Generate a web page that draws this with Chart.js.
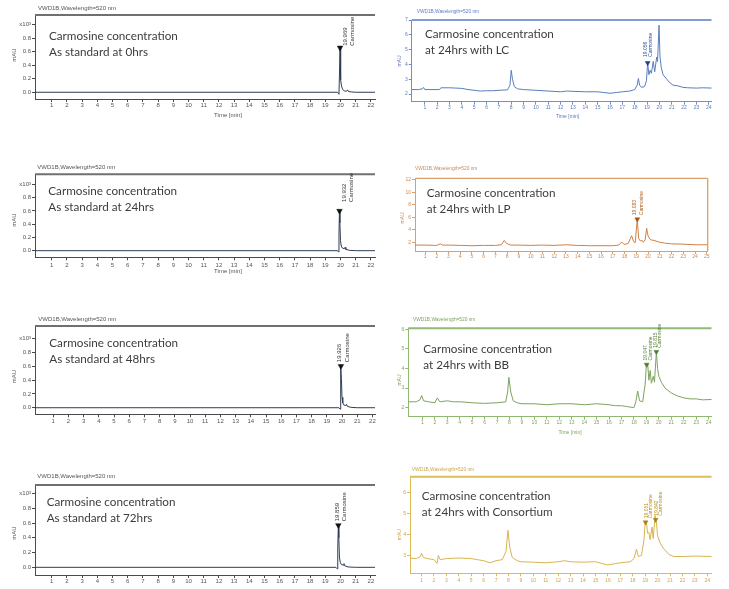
<!DOCTYPE html>
<html><head><meta charset="utf-8">
<script src="https://cdn.jsdelivr.net/npm/chart.js@4/dist/chart.umd.min.js"></script>
<style>
html,body{margin:0;padding:0;background:#fff;width:729px;height:589px;overflow:hidden;position:relative}
canvas{position:absolute}
.note{position:absolute;white-space:nowrap;font-family:Lato,"Open Sans",sans-serif;color:#3c3c3c;font-size:11.7px;line-height:16.2px}
</style></head><body>
<script>
// ---------- DATA ----------
const peakName = 'Carmosine';
const headerText = 'VWD1B,Wavelength=520 nm';

const stdXTicks = [1,2,3,4,5,6,7,8,9,10,11,12,13,14,15,16,17,18,19,20,21,22];
const stdYTicks = [0,0.2,0.4,0.6,0.8,1.0];
const x24Ticks = [1,2,3,4,5,6,7,8,9,10,11,12,13,14,15,16,17,18,19,20,21,22,23,24];
const x25Ticks = [1,2,3,4,5,6,7,8,9,10,11,12,13,14,15,16,17,18,19,20,21,22,23,24,25];
const lcYTicks = [2,3,4,5,6,7];
const lpYTicks = [2,4,6,8,10,12];
const bbYTicks = [2,3,4,5,6];
const consYTicks = [3,4,5,6];

// Standard 0 hrs
const std0Time   = [-0.1, 19.8, 19.9, 19.935, 19.969, 19.99, 20.03, 20.08, 20.15, 20.25, 20.4, 20.47, 20.52, 20.7, 21.0, 22.3];
const std0Signal = [0, 0, -0.03, 0.3, 0.66, 0.45, 0.18, 0.08, 0.04, 0.02, 0.015, 0.035, 0.012, 0.005, 0, 0];
const std0PeakTime = [19.969], std0PeakSignal = [0.66], std0PeakRT = ['19.969'];
// Standard 24 hrs
const std24Time   = [-0.1, 19.8, 19.87, 19.9, 19.932, 19.96, 20.0, 20.05, 20.12, 20.25, 20.3, 20.35, 20.6, 21.0, 22.3];
const std24Signal = [0, 0, -0.02, 0.25, 0.6, 0.42, 0.15, 0.07, 0.04, 0.03, 0.05, 0.02, 0.005, 0, 0];
const std24PeakTime = [19.932], std24PeakSignal = [0.6], std24PeakRT = ['19.932'];
// Standard 48 hrs
const std48Time   = [-0.2, 19.8, 19.87, 19.9, 19.926, 19.96, 20.0, 20.05, 20.12, 20.25, 20.3, 20.35, 20.6, 21.0, 22.2];
const std48Signal = [0, 0, -0.02, 0.25, 0.6, 0.42, 0.15, 0.07, 0.04, 0.03, 0.05, 0.02, 0.005, 0, 0];
const std48PeakTime = [19.926], std48PeakSignal = [0.6], std48PeakRT = ['19.926'];
// Standard 72 hrs
const std72Time   = [-0.1, 19.7, 19.78, 19.82, 19.859, 19.89, 19.93, 19.98, 20.05, 20.18, 20.23, 20.28, 20.5, 21.0, 22.3];
const std72Signal = [0, 0, -0.02, 0.25, 0.57, 0.4, 0.14, 0.07, 0.04, 0.03, 0.05, 0.02, 0.005, 0, 0];
const std72PeakTime = [19.859], std72PeakSignal = [0.57], std72PeakRT = ['19.859'];

// 24 hrs with LC
const lcTime   = [-0.1,0.5,0.8,0.9,1.0,1.5,2.2,2.3,3,3.5,4,4.5,5,5.5,6,6.5,7,7.7,7.9,8.0,8.1,8.25,8.5,9,10,11,12,12.5,13,14,15,15.5,16,16.5,17,17.6,18,18.2,18.3,18.4,18.55,18.8,18.95,19.05,19.15,19.25,19.35,19.5,19.62,19.78,19.85,19.97,20.05,20.15,20.3,20.55,20.8,21.1,21.5,21.9,22.3,23,23.5,24.3];
const lcSignal = [2.3,2.3,2.35,2.45,2.3,2.3,2.3,2.42,2.42,2.4,2.38,2.3,2.25,2.2,2.22,2.22,2.25,2.28,2.6,3.6,3.0,2.5,2.35,2.3,2.25,2.2,2.15,2.2,2.18,2.15,2.15,2.1,2.05,2.1,2.15,2.2,2.3,2.6,3.05,2.6,2.45,2.5,2.9,4.1,3.3,3.6,3.4,4.2,3.5,4.5,4.2,6.65,4.5,3.8,3.3,3.05,2.8,2.6,2.55,2.45,2.42,2.4,2.42,2.4];
const lcPeakTime = [19.05], lcPeakSignal = [4.1], lcPeakRT = ['19.056'];
// 24 hrs with LP
const lpTime   = [0.1,1,2,2.3,2.5,3,4,5,6,7,7.5,7.75,7.95,8.3,9,10,11,12,13,14,15,16,17,17.5,17.75,17.95,18.3,18.6,18.75,18.9,19.08,19.2,19.35,19.5,19.6,19.75,19.88,20.0,20.2,20.5,21,21.5,22,23,24,25.1];
const lpSignal = [1.55,1.55,1.5,1.75,1.55,1.55,1.5,1.45,1.5,1.5,1.6,2.3,1.8,1.55,1.55,1.5,1.55,1.5,1.6,1.5,1.45,1.45,1.45,1.55,2.05,1.65,1.8,3.05,2.2,1.9,5.7,2.6,2.2,2.3,2.0,2.4,4.25,3.0,2.4,2.3,2.0,1.85,1.75,1.7,1.6,1.6];
const lpPeakTime = [19.08], lpPeakSignal = [5.7], lpPeakRT = ['19.083'];
// 24 hrs with BB
const bbTime   = [-0.2,0.5,0.8,0.95,1.1,1.5,2.0,2.2,2.4,3,3.5,4,4.5,5,6,7,7.7,7.85,7.95,8.1,8.3,8.6,9,10,11,12,13,14,15,16,16.5,17,17.5,18,18.15,18.3,18.45,18.7,18.9,19.0,19.1,19.2,19.3,19.4,19.55,19.65,19.8,19.9,20.0,20.2,20.5,21,21.5,22,22.5,23,23.5,24.3];
const bbSignal = [2.3,2.3,2.4,2.62,2.35,2.3,2.25,2.5,2.3,2.35,2.3,2.3,2.28,2.25,2.22,2.25,2.3,2.8,3.55,2.8,2.35,2.25,2.2,2.2,2.15,2.2,2.2,2.15,2.2,2.15,2.1,2.1,2.05,2.0,2.3,2.85,2.35,2.3,3.2,4.2,4.25,3.4,3.9,3.25,3.6,3.3,4.85,4.0,3.6,3.3,3.0,2.75,2.6,2.5,2.45,2.45,2.4,2.42];
const bbPeakTime = [19.02, 19.8], bbPeakSignal = [4.2, 4.85], bbPeakRT = ['19.047', '19.815'];
// 24 hrs with Consortium
const consTime   = [0.1,0.6,0.9,1.0,1.15,1.5,2.0,2.25,2.35,2.5,3,4,5,5.5,6,6.5,7,7.5,7.8,7.95,8.1,8.3,8.7,9,10,11,12,12.5,13,14,15,15.5,16,16.5,17,17.8,18.1,18.3,18.45,18.7,18.9,19.0,19.1,19.2,19.3,19.4,19.55,19.65,19.8,19.9,20.0,20.2,20.45,20.9,21.3,22,23,24.4];
const consSignal = [2.87,2.85,2.95,3.1,2.9,2.85,2.8,2.62,3.0,2.8,2.85,2.88,2.85,2.8,2.75,2.65,2.75,2.8,3.2,4.2,3.4,2.9,2.75,2.7,2.68,2.65,2.7,2.75,2.7,2.68,2.7,2.62,2.55,2.6,2.65,2.7,2.85,3.3,2.95,3.0,3.7,4.55,4.6,4.05,4.1,3.75,4.35,3.8,4.9,4.6,3.95,3.6,3.35,3.05,2.95,2.95,2.97,2.95];
const consPeakTime = [19.03, 19.84], consPeakSignal = [4.58, 4.7], consPeakRT = ['19.051', '19.842'];

// ---------- THEMES / LAYOUT ----------
const themes = {
  grey:  {trace:'#2f3d56', axis:'#4a4a4a', top:'#707070', text:'#555555', label:'#333333', mark:'#111111'},
  blue:  {trace:'#5a7dbb', axis:'#6f90c8', top:'#7f9dd2', text:'#5a7dbb', label:'#2e4f98', mark:'#1f3f88'},
  orange:{trace:'#cf8047', axis:'#dba06a', top:'#dba06a', text:'#cc8a55', label:'#b3601c', mark:'#a8500e'},
  green: {trace:'#7ea35f', axis:'#91b873', top:'#93b977', text:'#7ea35f', label:'#557f35', mark:'#4d7a2e'},
  gold:  {trace:'#d8b450', axis:'#dcbb55', top:'#ddbd5a', text:'#caa642', label:'#b8921c', mark:'#a88310'}
};

const panels = [
 {time:std0Time, signal:std0Signal, pkT:std0PeakTime, pkS:std0PeakSignal, pkL:std0PeakRT, xTicks:stdXTicks, yTicks:stdYTicks, std:true,
  xMin:-0.1, xMax:22.27, yMin:-0.1, yMax:1.145, theme:'grey',
  box:{x:0,y:0,w:380,h:124}, area:{l:35,t:15,r:375,b:99}, tf:6, tpad:0,
  header:[38,8.3,6], tlab:[228,115], mau:[14.5,55,6], note:[49,35], lines:['Carmosine concentration','As standard at 0hrs'],
  lab:{dx:[5.5,12],gap:2,size:6}},
 {time:std24Time, signal:std24Signal, pkT:std24PeakTime, pkS:std24PeakSignal, pkL:std24PeakRT, xTicks:stdXTicks, yTicks:stdYTicks, std:true,
  xMin:-0.1, xMax:22.27, yMin:-0.1, yMax:1.153, theme:'grey',
  box:{x:0,y:158,w:380,h:118}, area:{l:35,t:174.3,r:375,b:257.3}, tf:6, tpad:1,
  header:[37.3,167.7,6], tlab:[228,271.5], mau:[14.5,220,6], note:[48.3,190], lines:['Carmosine concentration','As standard at 24hrs'],
  lab:{dx:[5,11.5],gap:9,size:6}},
 {time:std48Time, signal:std48Signal, pkT:std48PeakTime, pkS:std48PeakSignal, pkL:std48PeakRT, xTicks:stdXTicks, yTicks:stdYTicks, std:true,
  xMin:-0.2, xMax:22.17, yMin:-0.095, yMax:1.18, theme:'grey',
  box:{x:0,y:310,w:380,h:118}, area:{l:35,t:326,r:375,b:414.3}, tf:6, tpad:0,
  header:[38.3,319,6], tlab:null, mau:[14.5,376.7,6], note:[49.3,342.3], lines:['Carmosine concentration','As standard at 48hrs'],
  lab:{dx:[-2,6.5],gap:4,size:6}},
 {time:std72Time, signal:std72Signal, pkT:std72PeakTime, pkS:std72PeakSignal, pkL:std72PeakRT, xTicks:stdXTicks, yTicks:stdYTicks, std:true,
  xMin:-0.1, xMax:22.27, yMin:-0.104, yMax:1.116, theme:'grey',
  box:{x:0,y:468,w:380,h:121}, area:{l:35,t:485,r:375,b:575}, tf:6, tpad:0,
  header:[37.3,476.7,6], tlab:null, mau:[14.5,533,6], note:[46.7,500.7], lines:['Carmosine concentration','As standard at 72hrs'],
  lab:{dx:[-1,5.5],gap:4,size:6}},
 {time:lcTime, signal:lcSignal, pkT:lcPeakTime, pkS:lcPeakSignal, pkL:lcPeakRT, xTicks:x24Ticks, yTicks:lcYTicks,
  xMin:-0.06, xMax:24.22, yMin:1.48, yMax:7.0, theme:'blue',
  box:{x:390,y:0,w:326,h:124}, area:{l:411.7,t:20,r:716,b:101.7}, tf:5, tpad:0,
  header:[416.7,11.7,4.8], tlab:[567.5,117], mau:[400,61,5], note:[425,33.3], lines:['Carmosine concentration','at 24hrs with LC'],
  lab:{dx:[-2.4,2.8],gap:6,size:5}},
 {time:lpTime, signal:lpSignal, pkT:lpPeakTime, pkS:lpPeakSignal, pkL:lpPeakRT, xTicks:x25Ticks, yTicks:lpYTicks, box4:true,
  xMin:0.145, xMax:25.08, yMin:0.6, yMax:12.27, theme:'orange',
  box:{x:390,y:160,w:330,h:100}, area:{l:415,t:178.3,r:707.7,b:251}, tf:5, tpad:0,
  header:[415,169,4.8], tlab:null, mau:[402.3,218,5], note:[426.7,191.7], lines:['Carmosine concentration','at 24hrs with LP'],
  lab:{dx:[-2.5,4.5],gap:4,size:5}},
 {time:bbTime, signal:bbSignal, pkT:bbPeakTime, pkS:bbPeakSignal, pkL:bbPeakRT, xTicks:x24Ticks, yTicks:bbYTicks,
  xMin:-0.13, xMax:24.23, yMin:1.54, yMax:6.05, theme:'green',
  box:{x:390,y:313,w:326,h:125}, area:{l:408.3,t:328.3,r:716,b:416.7}, tf:5, tpad:0,
  header:[413,320,4.8], tlab:[570,433], mau:[400,380,5], note:[423.3,348.3], lines:['Carmosine concentration','at 24hrs with BB'],
  lab:{dx:[-1,3.5],gap:4,size:5}},
 {time:consTime, signal:consSignal, pkT:consPeakTime, pkS:consPeakSignal, pkL:consPeakRT, xTicks:x24Ticks, yTicks:consYTicks,
  xMin:0.07, xMax:24.34, yMin:2.15, yMax:6.75, theme:'gold',
  box:{x:390,y:463,w:326,h:126}, area:{l:410,t:476.7,r:716,b:573.3}, tf:5, tpad:1,
  header:[411.7,470,4.8], tlab:null, mau:[400,534.7,5], note:[421.7,495], lines:['Carmosine concentration','at 24hrs with Consortium'],
  lab:{dx:[1.5,5],gap:4,size:5}}
];

const FONT = '"Liberation Sans", Arial, sans-serif';

function makePlugin(p, th){
  return {
    id:'deco',
    afterDraw(chart){
      const ctx = chart.ctx, ca = chart.chartArea, ox = p.box.x, oy = p.box.y;
      const xs = chart.scales.x, ys = chart.scales.y;
      ctx.save();
      ctx.strokeStyle = th.top; ctx.lineWidth = p.box4 ? 1.3 : 2;
      ctx.beginPath(); ctx.moveTo(ca.left, ca.top); ctx.lineTo(ca.right, ca.top); ctx.stroke();
      if (p.box4){ ctx.beginPath(); ctx.moveTo(ca.right, ca.top); ctx.lineTo(ca.right, ca.bottom); ctx.stroke(); }
      ctx.fillStyle = th.label; ctx.font = p.lab.size + 'px ' + FONT;
      ctx.textBaseline = 'middle'; ctx.textAlign = 'left';
      p.pkT.forEach((t,i)=>{
        const px = xs.getPixelForValue(t), py = ys.getPixelForValue(p.pkS[i]);
        [p.pkL[i], peakName].forEach((txt,j)=>{
          ctx.save(); ctx.translate(px + p.lab.dx[j], py - p.lab.gap); ctx.rotate(-Math.PI/2);
          ctx.fillText(txt, 0, 0); ctx.restore();
        });
      });
      ctx.fillStyle = th.text; ctx.font = p.header[2] + 'px ' + FONT;
      ctx.textAlign = 'left'; ctx.textBaseline = 'middle';
      ctx.fillText(headerText, p.header[0]-ox, p.header[1]-oy);
      if (p.tlab){ ctx.font = p.tf + 'px ' + FONT; ctx.textAlign='center'; ctx.fillText('Time [min]', p.tlab[0]-ox, p.tlab[1]-oy); }
      ctx.save(); ctx.translate(p.mau[0]-ox, p.mau[1]-oy); ctx.rotate(-Math.PI/2);
      ctx.font = p.mau[2] + 'px ' + FONT; ctx.textAlign='center'; ctx.fillText('mAU', 0, 0); ctx.restore();
      ctx.restore();
    }
  };
}

panels.forEach(p=>{
  const th = themes[p.theme];
  const cv = document.createElement('canvas');
  cv.width = p.box.w; cv.height = p.box.h;
  cv.style.left = p.box.x + 'px'; cv.style.top = p.box.y + 'px';
  cv.style.width = p.box.w + 'px'; cv.style.height = p.box.h + 'px';
  document.body.appendChild(cv);
  const yW = p.area.l - p.box.x;
  const xH = p.box.y + p.box.h - p.area.b;
  const padTop = p.area.t - p.box.y;
  const padRight = p.box.x + p.box.w - p.area.r;
  new Chart(cv, {
    type:'line',
    data:{datasets:[
      {data:p.time.map((t,i)=>({x:t,y:p.signal[i]})), borderColor:th.trace, borderWidth:1, pointRadius:0, tension:0, fill:false, order:2},
      {data:p.pkT.map((t,i)=>({x:t,y:p.pkS[i]})), showLine:false, pointStyle:'triangle', rotation:180, pointRadius:p.std?3.2:2.8,
       backgroundColor:th.mark, borderColor:th.mark, borderWidth:0.5, order:1}
    ]},
    options:{
      responsive:false, animation:false, devicePixelRatio:1,
      layout:{padding:{top:padTop, right:padRight, left:0, bottom:0}},
      plugins:{legend:{display:false}, tooltip:{enabled:false}, title:{display:false}},
      scales:{
        x:{type:'linear', min:p.xMin, max:p.xMax,
           afterBuildTicks:s=>{ s.ticks = p.xTicks.map(v=>({value:v})); },
           afterFit:s=>{ s.height = xH; s.paddingLeft = 0; s.paddingRight = 0; },
           ticks:{font:{size:p.tf, family:FONT}, color:th.text, padding:p.tpad, maxRotation:0, autoSkip:false, callback:v=>String(v)},
           grid:{display:true, drawOnChartArea:false, drawTicks:true, tickLength:3, color:th.axis, lineWidth:1},
           border:{display:true, color:th.axis, width:1}},
        y:{type:'linear', min:p.yMin, max:p.yMax,
           afterBuildTicks:s=>{ s.ticks = p.yTicks.map(v=>({value:v})); },
           afterFit:s=>{ s.width = yW; s.paddingTop = 0; s.paddingBottom = 0; },
           ticks:{font:{size:p.tf, family:FONT}, color:th.text, padding:1, autoSkip:false,
                  callback:v=> p.std ? (v===1 ? 'x10\u00B3' : v.toFixed(1)) : String(v)},
           grid:{display:true, drawOnChartArea:false, drawTicks:true, tickLength:3, color:th.axis, lineWidth:1},
           border:{display:true, color:th.axis, width:1}}
      }
    },
    plugins:[makePlugin(p, th)]
  });
  const n = document.createElement('div');
  n.className = 'note';
  n.style.left = p.note[0] + 'px';
  n.style.top = (p.note[1] - 8.1) + 'px';
  n.innerHTML = p.lines.map(s=>'<div>'+s+'</div>').join('');
  document.body.appendChild(n);
});
</script>
</body></html>
